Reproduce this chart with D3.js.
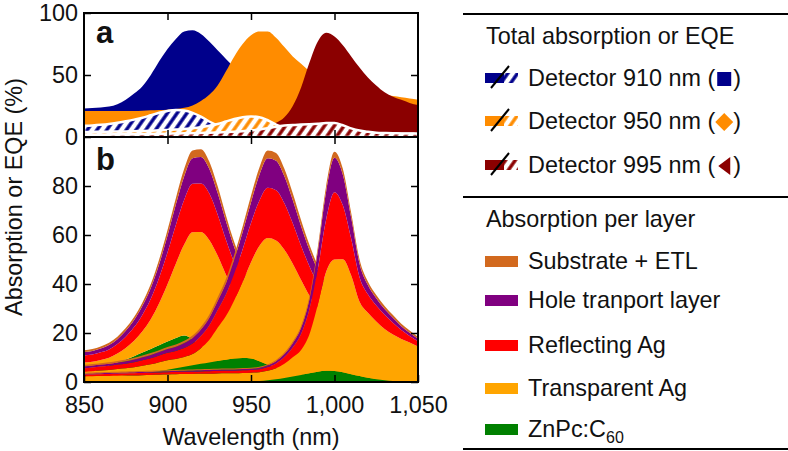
<!DOCTYPE html>
<html>
<head>
<meta charset="utf-8">
<script src="https://cdn.jsdelivr.net/npm/d3@7"></script>
<style>
  body { margin: 0; background: #fff; }
  svg text { font-family: "Liberation Sans", Arial, Helvetica, sans-serif; fill: #111; }
</style>
</head>
<body>
<svg id="chart" width="788" height="451"></svg>
<script>
// wavelength grid (nm)
const wavelengths = [850,855,860,865,870,875,880,885,890,895,900,905,910,915,920,925,930,935,940,945,
  950,955,960,965,970,975,980,985,990,995,1000,1005,1010,1015,1020,1025,1030,1035,1040,1045,1050];

// panel a: total absorption (solid) and EQE (hatched), %
const absTotal910 = [23,23.3,23.7,24.5,26.5,30,35,41,50,61,71,79,85,86,83,77,70,63,56,49,
  43,38,34,31,28,26,24,22.5,21,20,19,18.2,17.5,17,16.5,16,15.5,15.2,15,14.7,14.5];
const absTotal950 = [21,21,21,21,21,21,21,21.2,21.5,21.8,22,22.5,23.5,25.5,29,34,41.5,53,65,75,
  82,85,85,80,72.5,65,59,53,48,44.5,42,40,38.5,37,36,35,34,33,32,31,30];
const absTotal995 = [4,4,4.1,4.2,4.3,4.4,4.5,4.6,4.8,5,5.2,5.4,5.6,5.8,6,6.3,6.6,7,7.5,8,
  8.5,9.2,10,11.5,16,25,40,60,77,84,81,74,65,56,48,41.5,36,32.5,30,27.5,25.8];
const eqe910 = [9,9.3,9.8,10.5,11.5,12.7,14,15.5,17.5,19.5,21,21.8,21.3,19.5,16.5,12.5,9.5,8,7,6.5,
  6,5.6,5.3,5,4.8,4.6,4.4,4.2,4,3.8,3.6,3.4,3.3,3.2,3.1,3,2.9,2.8,2.7,2.6,2.5];
const eqe950 = [4,4.1,4.2,4.3,4.4,4.5,4.7,4.9,5.1,5.4,5.7,6,6.5,7,7.8,9,10.5,12.5,14.5,16,
  16.5,16,13.5,10,7.5,6,5,4.3,3.8,3.4,3.1,2.9,2.7,2.5,2.4,2.3,2.2,2.1,2,1.9,1.8];
const eqe995 = [2,2,2.1,2.1,2.2,2.2,2.3,2.4,2.5,2.6,2.7,2.8,3,3.1,3.3,3.5,3.7,4,4.3,4.7,
  5.2,6,7,8.3,9.2,9.7,10,10.3,10.7,11.2,11.2,9.5,7,5.2,4.2,3.5,3.2,3,2.9,2.8,2.7];

// panel b: absorption per layer, %
const zn910 = [3,4.2,5.5,6.8,8,9.2,10.5,12,13.5,15,16.5,18,19,17.5,14.5,11.5,9,7,5.5,4.5,
  3.5,2.8,2.3,2,1.8,1.6,1.4,1.3,1.2,1.1,1,0.9,0.9,0.8,0.8,0.7,0.7,0.6,0.6,0.5,0.5];
const transAg910 = [5,4.1,3.5,3.1,3.6,4.7,6.3,8.7,12.1,17.1,23.4,30.3,37.1,43.6,46.7,46.5,42.6,36.8,31.1,26.4,
  22.8,19.5,17.1,15.1,13.5,12,10.9,10,9.1,8.5,8.1,7.5,7.2,6.9,6.6,6.4,6.1,5.8,5.5,5.6,5.3];
const reflAg910 = [2.8,2.9,3.1,3.4,3.9,4.6,5.6,6.8,8.4,10.5,13,15.8,18.3,19.8,19.8,19,16.8,14.3,12,10,
  8.6,7.4,6.4,5.7,5,4.5,4.1,3.8,3.5,3.3,3,2.8,2.7,2.6,2.5,2.4,2.3,2.2,2.1,2.1,2];
const htl910 = [1.4,1.5,1.6,1.8,2,2.4,2.9,3.6,4.4,5.5,6.8,8.3,9.6,10.4,10.8,10,8.8,7.5,6.3,5.3,
  4.5,3.9,3.4,3,2.6,2.4,2.1,2,1.8,1.7,1.6,1.5,1.4,1.4,1.3,1.3,1.2,1.2,1.1,1.1,1];
const sub910 = [0.8,0.8,0.8,0.9,1,1.1,1.2,1.4,1.6,1.9,2.3,2.6,3,3.2,3.2,3,2.8,2.4,2.1,1.8,
  1.6,1.4,1.3,1.2,1.1,1,1,0.9,0.9,0.9,0.8,0.8,0.8,0.8,0.8,0.7,0.7,0.7,0.7,0.7,0.7];

const zn950 = [1.5,1.7,2,2.2,2.5,2.8,3.2,3.6,4,4.5,5,5.6,6.2,6.8,7.4,8,8.6,9.1,9.6,9.8,
  9.6,8.5,7,5.8,4.8,4,3.4,2.9,2.5,2.2,2,1.8,1.7,1.5,1.4,1.3,1.2,1.2,1.1,1,1];
const transAg950 = [2.6,2.7,2.7,2.7,2.8,2.8,2.8,3,3.2,3.6,3.9,3.8,4,4.6,6.4,9.1,13.5,17.8,23.8,31.1,
  39.3,47,51.8,52,49.2,44.3,38.2,32.3,27.4,23.6,20.4,17.7,15.5,13.9,12.4,11.1,10.2,9.4,8.6,8.1,7.6];
const reflAg950 = [1.5,1.5,1.6,1.7,1.8,1.9,2.1,2.3,2.5,2.7,3,3.3,3.7,4.3,5,6,7.2,8.8,10.9,13.3,
  16,18.5,20.5,20.5,19,16.5,14,12,10.2,8.8,7.6,6.6,5.9,5.2,4.7,4.3,3.9,3.6,3.4,3.2,3];
const htl950 = [0.8,0.8,0.8,0.9,0.9,1,1.1,1.2,1.3,1.4,1.6,1.7,2,2.3,2.6,3.1,3.8,4.6,5.7,7,
  8.4,10.5,12,12,11,9.5,8,6.7,5.6,4.8,4.1,3.6,3.2,2.8,2.5,2.3,2.1,1.9,1.8,1.7,1.6];
const sub950 = [0.6,0.6,0.6,0.6,0.6,0.7,0.7,0.7,0.8,0.8,0.8,0.9,0.9,1,1.1,1.3,1.4,1.7,2,2.3,
  2.7,3,3.2,3.2,3,2.7,2.4,2.1,1.8,1.6,1.4,1.3,1.2,1.1,1,1,0.9,0.9,0.9,0.8,0.8];

const zn995 = [0,0,0,0,0,0,0,0,0,0,0,0,0,0,0,0,0,0,0,0.1,
  0.2,0.4,0.7,1.1,1.6,2.2,2.9,3.6,4.2,4.6,4.5,4,3.2,2.4,1.7,1.1,0.7,0.4,0.2,0.1,0];
const transAg995 = [2.2,2.3,2.4,2.5,2.6,2.7,2.7,2.8,2.9,3,3.1,3.2,3.3,3.3,3.4,3.4,3.5,3.6,3.6,3.6,
  3.6,3.6,3.9,4.5,5.8,7.9,10.2,15.9,27.3,40.4,45.5,46.1,40.3,30.4,26.6,23.6,20.9,19,17.4,16,14.5];
const reflAg995 = [0.8,0.8,0.8,0.8,0.8,0.8,0.9,0.9,0.9,0.9,0.9,0.9,0.9,0.9,0.9,1,1,1,1,1.1,
  1.1,1.2,1.5,2,2.8,4,6.5,10.3,14.6,21.3,27.5,22,15,10,7.5,6.5,5.8,4.8,3.6,2.7,2.1];
const htl995 = [0.4,0.4,0.4,0.4,0.4,0.4,0.4,0.4,0.4,0.4,0.4,0.4,0.4,0.5,0.5,0.5,0.5,0.5,0.5,0.5,
  0.5,0.6,0.7,0.9,1.2,1.7,2.5,4,7.2,11.5,14,12.5,8.5,5.5,3.8,3,2.4,2,1.6,1.3,1.1];
const sub995 = [0.4,0.4,0.4,0.4,0.4,0.4,0.4,0.4,0.4,0.4,0.4,0.4,0.4,0.4,0.4,0.4,0.4,0.4,0.4,0.4,
  0.4,0.4,0.4,0.5,0.6,0.7,0.9,1.2,1.7,2.2,2.5,2.4,2,1.7,1.4,1.3,1.2,1.1,1,0.9,0.8];

const xTicks = [850, 900, 950, 1000, 1050];
const yTicksA = [0, 50, 100];
const yTicksB = [0, 20, 40, 60, 80];

const detectorNames = ["Detector 910 nm (", "Detector 950 nm (", "Detector 995 nm ("];
const layerNames = ["Substrate + ETL", "Hole tranport layer", "Reflecting Ag", "Transparent Ag", "ZnPc:C"];

// ---- styles / layout
const FS = 23.4;
const detColors = ["#00008b", "#ff8c00", "#8b0000"];
const layerKeys = ["zn", "trans", "refl", "htl", "sub"];
const layerColors = { sub: "#d2691e", htl: "#800080", refl: "#ff0000", trans: "#ffa500", zn: "#008000" };

const svg = d3.select("#chart");
const x = d3.scaleLinear().domain([850, 1050]).range([84, 418]);
const yA = d3.scaleLinear().domain([0, 100]).range([137, 13]);
const yB = d3.scaleLinear().domain([0, 100]).range([382, 137]);

const defs = svg.append("defs");
defs.append("clipPath").attr("id", "clipA").append("rect")
  .attr("x", 84).attr("y", 13).attr("width", 334).attr("height", 124);
defs.append("clipPath").attr("id", "clipB").append("rect")
  .attr("x", 84).attr("y", 137).attr("width", 334).attr("height", 245);

detColors.forEach((c, i) => {
  const p = defs.append("pattern")
    .attr("id", `hatch-${i}`)
    .attr("patternUnits", "userSpaceOnUse")
    .attr("width", 8).attr("height", 8)
    .attr("patternTransform", "rotate(35)");
  p.append("rect").attr("width", 8).attr("height", 8).attr("fill", "#fff");
  p.append("line").attr("x1", 2).attr("y1", 0).attr("x2", 2).attr("y2", 8)
    .attr("stroke", c).attr("stroke-width", 3.4);
});

// ---- panel a
const absTotals = [absTotal910, absTotal950, absTotal995];
const eqes = [eqe910, eqe950, eqe995];

const areaA = d3.area()
  .x((d, i) => x(wavelengths[i]))
  .y0(yA(0))
  .y1(d => yA(d))
  .curve(d3.curveMonotoneX);

const gA = svg.append("g").attr("clip-path", "url(#clipA)");
absTotals.forEach((vals, i) => {
  gA.append("path").attr("d", areaA(vals)).attr("fill", detColors[i]);
});
eqes.forEach((vals, i) => {
  gA.append("path").attr("d", areaA(vals))
    .attr("fill", `url(#hatch-${i})`)
    .attr("stroke", "#fff").attr("stroke-width", 2.5);
});

// ---- panel b
const detLayers = [
  { zn: zn910, trans: transAg910, refl: reflAg910, htl: htl910, sub: sub910 },
  { zn: zn950, trans: transAg950, refl: reflAg950, htl: htl950, sub: sub950 },
  { zn: zn995, trans: transAg995, refl: reflAg995, htl: htl995, sub: sub995 }
];

const areaB = d3.area()
  .x(d => x(d.data.wl))
  .y0(d => yB(d[0]))
  .y1(d => yB(d[1]))
  .curve(d3.curveMonotoneX);

const gB = svg.append("g").attr("clip-path", "url(#clipB)");
detLayers.forEach(det => {
  const rows = wavelengths.map((wl, i) => {
    const r = { wl: wl };
    layerKeys.forEach(k => r[k] = det[k][i]);
    return r;
  });
  const series = d3.stack().keys(layerKeys)(rows);
  gB.append("g").selectAll("path")
    .data(series)
    .join("path")
    .attr("d", areaB)
    .attr("fill", d => layerColors[d.key]);
});

// ---- axes
function styleAxis(g) {
  g.select(".domain").remove();
  g.selectAll(".tick line").attr("stroke", "#000").attr("stroke-width", 1.5);
  g.selectAll(".tick text")
    .attr("font-size", FS)
    .attr("font-family", '"Liberation Sans", Arial, sans-serif')
    .attr("fill", "#111");
}
const innerTicks = [900, 950, 1000];
svg.append("g").attr("transform", `translate(0,${yB(0)})`)
  .call(d3.axisBottom(x).tickValues(xTicks).tickSize(-7).tickPadding(14).tickFormat(d3.format(",")))
  .call(styleAxis);
svg.append("g").attr("transform", `translate(0,${yB(100)})`)
  .call(d3.axisTop(x).tickValues(innerTicks).tickSize(-7).tickFormat(""))
  .call(styleAxis);
svg.append("g").attr("transform", `translate(0,${yA(0)})`)
  .call(d3.axisBottom(x).tickValues(innerTicks).tickSize(-7).tickFormat(""))
  .call(styleAxis);
svg.append("g").attr("transform", `translate(0,${yA(100)})`)
  .call(d3.axisTop(x).tickValues(innerTicks).tickSize(-7).tickFormat(""))
  .call(styleAxis);

svg.append("g").attr("transform", `translate(${x(850)},0)`)
  .call(d3.axisLeft(yA).tickValues(yTicksA).tickSize(-7).tickPadding(6))
  .call(styleAxis);
svg.append("g").attr("transform", `translate(${x(850)},0)`)
  .call(d3.axisLeft(yB).tickValues(yTicksB).tickSize(-7).tickPadding(6))
  .call(styleAxis);
svg.append("g").attr("transform", `translate(${x(1050)},0)`)
  .call(d3.axisRight(yA).tickValues([50]).tickSize(-7).tickFormat(""))
  .call(styleAxis);
svg.append("g").attr("transform", `translate(${x(1050)},0)`)
  .call(d3.axisRight(yB).tickValues(yTicksB).tickSize(-7).tickFormat(""))
  .call(styleAxis);

// frames
[[yA(100), yA(0)], [yB(100), yB(0)]].forEach(([t, b]) => {
  svg.append("rect")
    .attr("x", x(850)).attr("y", t)
    .attr("width", x(1050) - x(850)).attr("height", b - t)
    .attr("fill", "none").attr("stroke", "#000").attr("stroke-width", 2);
});

// panel letters
svg.append("text").attr("x", 96).attr("y", 43).attr("font-size", 31).attr("font-weight", "bold").text("a");
svg.append("text").attr("x", 96).attr("y", 170).attr("font-size", 31).attr("font-weight", "bold").text("b");

// axis titles
svg.append("text")
  .attr("x", x(950)).attr("y", 445)
  .attr("text-anchor", "middle").attr("font-size", FS)
  .text("Wavelength (nm)");
svg.append("text")
  .attr("transform", "translate(22,197) rotate(-90)")
  .attr("text-anchor", "middle").attr("font-size", FS)
  .text("Absorption or EQE (%)");

// ---- legend
const lg = svg.append("g");
[14, 197, 449].forEach(yy => {
  lg.append("line").attr("x1", 463).attr("x2", 788).attr("y1", yy).attr("y2", yy)
    .attr("stroke", "#000").attr("stroke-width", 2);
});
lg.append("text").attr("x", 486).attr("y", 44).attr("font-size", FS).text("Total absorption or EQE");

const detRowY = [86, 129, 173];
detectorNames.forEach((name, i) => {
  const by = detRowY[i];
  const sy = by - 13;
  lg.append("rect").attr("x", 485).attr("y", sy).attr("width", 19).attr("height", 10).attr("fill", detColors[i]);
  lg.append("rect").attr("x", 504).attr("y", sy).attr("width", 14).attr("height", 10).attr("fill", `url(#hatch-${i})`);
  lg.append("line").attr("x1", 491).attr("y1", sy + 15).attr("x2", 509).attr("y2", sy - 7)
    .attr("stroke", "#000").attr("stroke-width", 2);
  const t = lg.append("text").attr("x", 528).attr("y", by).attr("font-size", FS).text(name);
  const end = 528 + t.node().getComputedTextLength();
  const cx = end + 9, cy = by - 7;
  if (i === 0) {
    lg.append("rect").attr("x", cx - 7).attr("y", cy - 7).attr("width", 14).attr("height", 14).attr("fill", detColors[i]);
  } else if (i === 1) {
    lg.append("path").attr("d", `M${cx},${cy - 9}L${cx + 9},${cy}L${cx},${cy + 9}L${cx - 9},${cy}Z`).attr("fill", detColors[i]);
  } else {
    lg.append("path").attr("d", `M${cx - 6},${cy}L${cx + 6},${cy - 9}L${cx + 6},${cy + 9}Z`).attr("fill", detColors[i]);
  }
  lg.append("text").attr("x", end + 18).attr("y", by).attr("font-size", FS).text(")");
});

lg.append("text").attr("x", 486).attr("y", 227).attr("font-size", FS).text("Absorption per layer");
const layerRowY = [269, 308, 353, 396, 437];
const legendKeys = ["sub", "htl", "refl", "trans", "zn"];
layerNames.forEach((name, i) => {
  const by = layerRowY[i];
  lg.append("rect").attr("x", 485).attr("y", by - 13).attr("width", 33).attr("height", 11)
    .attr("fill", layerColors[legendKeys[i]]);
  const t = lg.append("text").attr("x", 528).attr("y", by).attr("font-size", FS).text(name);
  if (legendKeys[i] === "zn") {
    t.append("tspan").attr("dy", 6).attr("font-size", 16).text("60");
  }
});
</script>
</body>
</html>
